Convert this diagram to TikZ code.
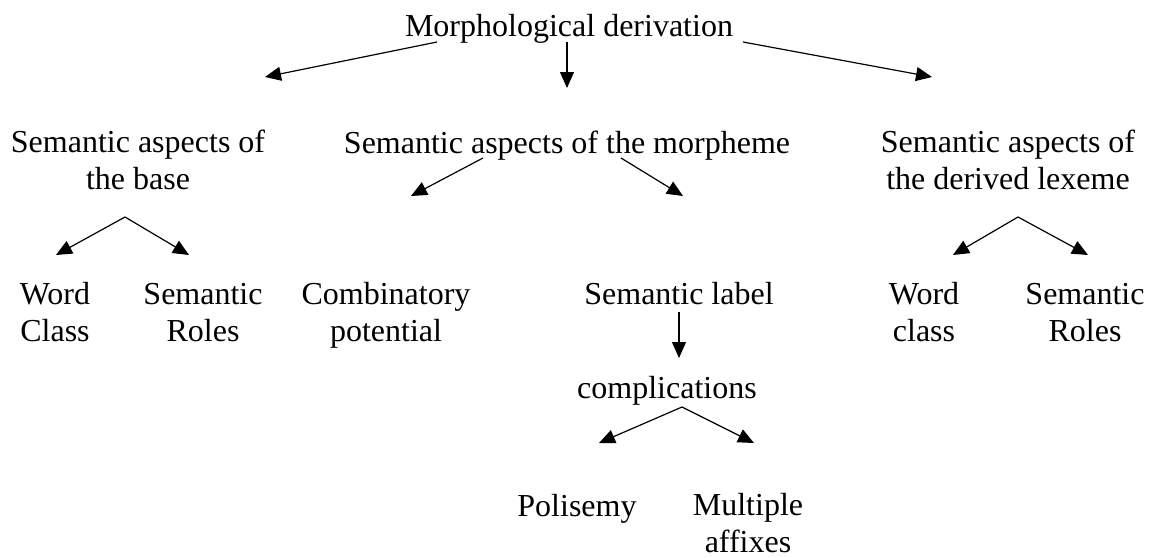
\documentclass[tikz,border=0pt]{standalone}
\usepackage{fontspec}
\setmainfont{Liberation Serif}
\usetikzlibrary{arrows.meta}
\begin{document}
\begin{tikzpicture}[x=0.75pt,y=-0.75pt,
        term/.style={anchor=base,align=center,inner sep=0pt,font=\fontsize{24}{27.4}\selectfont},
        branch/.style={-{Triangle[length=12pt,width=10.5pt]},line width=0.9pt}]
        \useasboundingbox (0,0) rectangle (1153,557);

        % two-line terms sit on the baseline of their last line
        \node[term] (morph) at (569,36) {Morphological derivation};
        \node[term] (base) at (138,189) {Semantic aspects of\\the base};
        \node[term] (morpheme) at (567,153) {Semantic aspects of the morpheme};
        \node[term] (lexeme) at (1008,189) {Semantic aspects of\\the derived lexeme};
        \node[term] (baseclass) at (55,341) {Word\\Class};
        \node[term] (baseroles) at (203,341) {Semantic\\Roles};
        \node[term] (combi) at (386,341) {Combinatory\\potential};
        \node[term] (semlabel) at (679,304) {Semantic label};
        \node[term] (compl) at (667,398) {complications};
        \node[term] (polisemy) at (577,516) {Polisemy};
        \node[term] (affixes) at (748,552) {Multiple\\affixes};
        \node[term] (lexclass) at (924,341) {Word\\class};
        \node[term] (lexroles) at (1085,341) {Semantic\\Roles};

        % arrow ends
        \coordinate (morph-l) at (437,42);
        \coordinate (morph-m) at (567,42);
        \coordinate (morph-r) at (743,42);
        \coordinate (to-base) at (265,77);
        \coordinate (to-morpheme) at (567,88);
        \coordinate (to-lexeme) at (932,77);
        \coordinate (base-top) at (125,217);
        \coordinate (to-baseclass) at (56,255);
        \coordinate (to-baseroles) at (189,255);
        \coordinate (morpheme-l) at (483,158);
        \coordinate (morpheme-r) at (621,158);
        \coordinate (to-combi) at (411,196);
        \coordinate (to-semlabel) at (683,196);
        \coordinate (semlabel-b) at (679,312);
        \coordinate (to-compl) at (679,358);
        \coordinate (compl-top) at (682,407);
        \coordinate (to-polisemy) at (599,443);
        \coordinate (to-affixes) at (754,443);
        \coordinate (lexeme-top) at (1018,217);
        \coordinate (to-lexclass) at (953,255);
        \coordinate (to-lexroles) at (1088,255);

        \path[branch]
        (morph-l) edge (to-base)
        (morph-m) edge (to-morpheme)
        (morph-r) edge (to-lexeme)
        (base-top) edge (to-baseclass)
        (base-top) edge (to-baseroles)
        (morpheme-l) edge (to-combi)
        (morpheme-r) edge (to-semlabel)
        (semlabel-b) edge (to-compl)
        (compl-top) edge (to-polisemy)
        (compl-top) edge (to-affixes)
        (lexeme-top) edge (to-lexclass)
        (lexeme-top) edge (to-lexroles)
        ;
\end{tikzpicture}
\end{document}
